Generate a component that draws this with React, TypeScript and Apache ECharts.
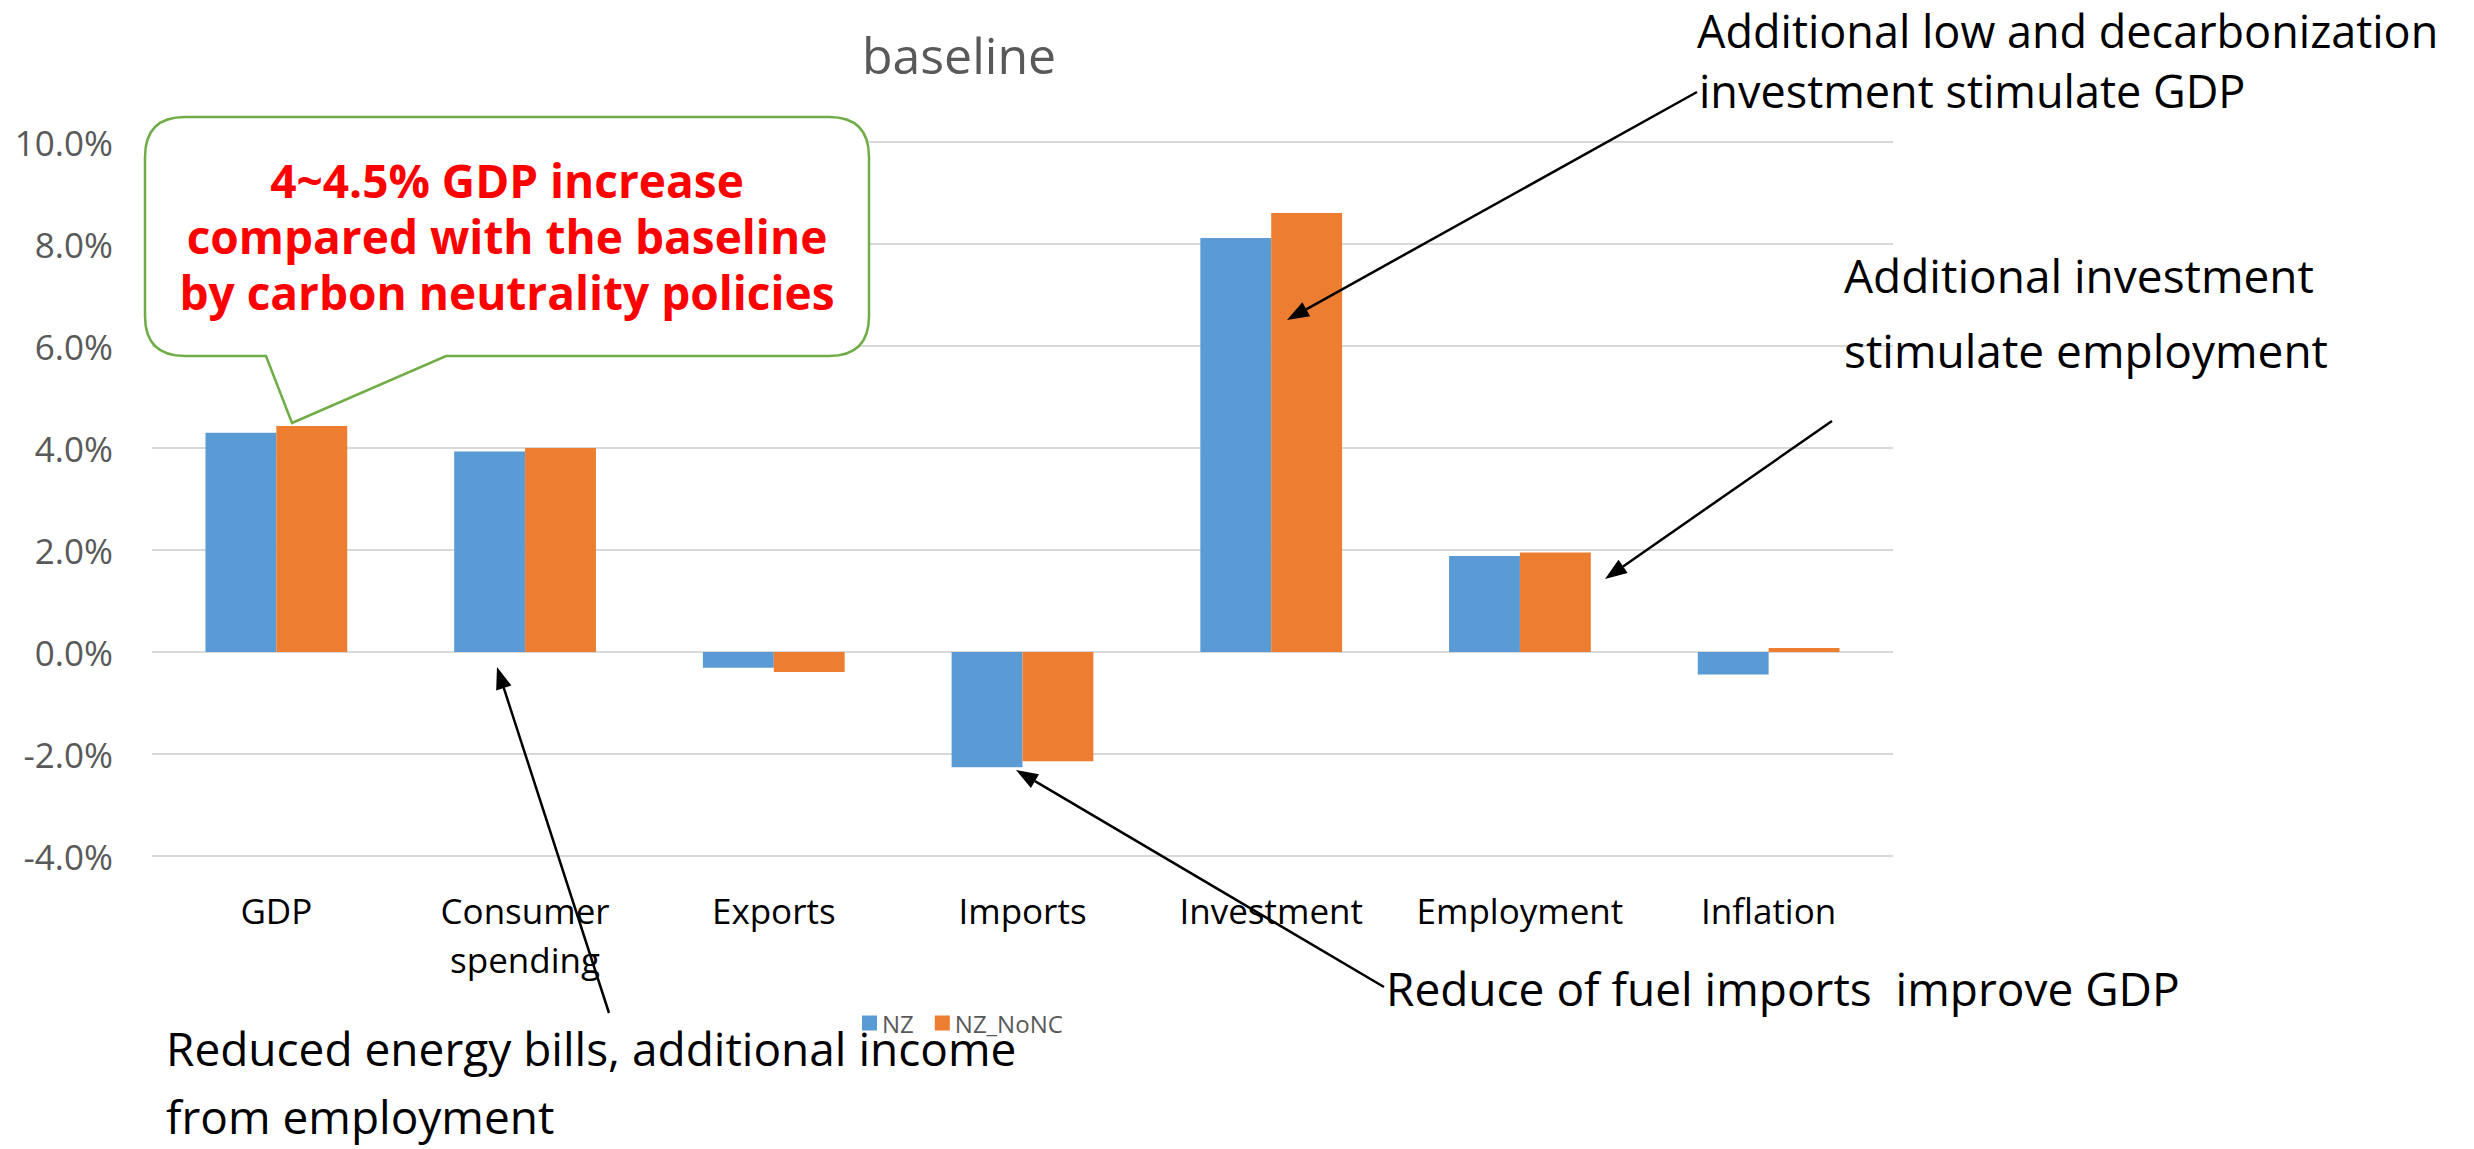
import React, { useEffect, useRef } from "react";
import * as echarts from "echarts";

const categories = ["GDP", "Consumer spending", "Exports", "Imports", "Investment", "Employment", "Inflation"];
const nz = [4.3, 3.93, -0.31, -2.26, 8.12, 1.88, -0.44];
const nzNoNC = [4.43, 4.0, -0.39, -2.14, 8.61, 1.95, 0.08];
const seriesNames = ["NZ", "NZ_NoNC"];
const calloutLines = [
  "4~4.5% GDP increase",
  "compared with the baseline",
  "by carbon neutrality policies",
];

const FONT = "'Open Sans', 'Noto Sans', sans-serif";

// callout outline
const bx0 = 145, by0 = 117, bx1 = 869, by1 = 356, r = 40;
const calloutPath =
  `M ${bx0 + r} ${by0} L ${bx1 - r} ${by0} Q ${bx1} ${by0} ${bx1} ${by0 + r} ` +
  `L ${bx1} ${by1 - r} Q ${bx1} ${by1} ${bx1 - r} ${by1} L 446 ${by1} L 292 423 L 266 ${by1} ` +
  `L ${bx0 + r} ${by1} Q ${bx0} ${by1} ${bx0} ${by1 - r} L ${bx0} ${by0 + r} Q ${bx0} ${by0} ${bx0 + r} ${by0} Z`;
echarts.graphic.registerShape("callout", echarts.graphic.extendPath(calloutPath, {}));

function arrow(x1: number, y1: number, x2: number, y2: number) {
  const dx = x2 - x1, dy = y2 - y1;
  const len = Math.sqrt(dx * dx + dy * dy);
  const ux = dx / len, uy = dy / len;
  const hl = 22, hw = 8;
  const bx = x2 - ux * hl, by = y2 - uy * hl;
  return [
    {
      type: "line",
      z: 100,
      shape: { x1, y1, x2: bx, y2: by },
      style: { stroke: "#000", lineWidth: 2.5 },
    },
    {
      type: "polygon",
      z: 100,
      shape: {
        points: [
          [x2, y2],
          [bx - uy * hw, by + ux * hw],
          [bx + uy * hw, by - ux * hw],
        ],
      },
      style: { fill: "#000" },
    },
  ];
}

function txt(text: string, x: number, baseline: number, size: number, opts: any = {}) {
  const align = opts.align || "left";
  return {
    type: "text",
    z: 101,
    style: {
      text,
      x,
      y: baseline - 0.39 * size,
      fill: opts.fill || "#000",
      fontSize: size,
      fontFamily: FONT,
      fontWeight: opts.bold ? "bold" : "normal",
      align,
      textAlign: align,
      verticalAlign: "middle",
      textVerticalAlign: "middle",
    },
  };
}

export default function App() {
  const ref = useRef<HTMLDivElement>(null);
  useEffect(() => {
    const chart = echarts.init(ref.current!, null, { renderer: "svg" });
    const graphics: any[] = [
      {
        type: "callout",
        x: 0,
        y: 0,
        z: 99,
        style: { fill: "#fff", stroke: "#70AD47", lineWidth: 2.5 },
      },
      ...calloutLines.map((t, i) => txt(t, 507, 198 + i * 56, 46, { align: "center", fill: "#FF0000", bold: true })),
      txt("Additional low and decarbonization", 1697, 48, 45),
      txt("investment stimulate GDP", 1699, 108, 45),
      txt("Additional investment", 1844, 293, 46),
      txt("stimulate employment", 1844, 368, 46),
      txt("Reduce of fuel imports  improve GDP", 1386, 1006, 46),
      txt("Reduced energy bills, additional income", 166, 1066, 46),
      txt("from employment", 166, 1134, 46),
      ...arrow(1697, 92, 1287, 320),
      ...arrow(1832, 421, 1605, 579),
      ...arrow(1384, 987, 1016, 770),
      ...arrow(609, 1013, 497, 667),
    ];
    chart.setOption({
      animation: false,
      title: {
        text: "baseline",
        left: 959,
        top: 30,
        textAlign: "center",
        padding: 0,
        textStyle: { fontSize: 50, fontWeight: "normal", color: "#595959", fontFamily: FONT, lineHeight: 50 },
      },
      legend: {
        data: seriesNames,
        left: 862,
        top: 1011,
        itemWidth: 15,
        itemHeight: 15,
        itemGap: 21,
        icon: "rect",
        padding: 0,
        textStyle: { fontSize: 24, color: "#595959", fontFamily: FONT, lineHeight: 24 },
      },
      grid: { left: 152, right: 581, top: 142, bottom: 293, containLabel: false },
      xAxis: {
        type: "category",
        data: categories,
        axisLine: { show: false, onZero: false },
        axisTick: { show: false },
        splitLine: { show: false },
        axisLabel: {
          interval: 0,
          margin: 30,
          fontSize: 35,
          lineHeight: 49,
          color: "#000",
          fontFamily: FONT,
          formatter: (v: string) => v.replace(" ", "\n"),
        },
      },
      yAxis: {
        type: "value",
        min: -4,
        max: 10,
        interval: 2,
        axisLine: { show: false },
        axisTick: { show: false },
        splitLine: { lineStyle: { color: "#D9D9D9", width: 2 } },
        axisLabel: {
          margin: 39,
          fontSize: 35,
          color: "#595959",
          fontFamily: FONT,
          formatter: (v: number) => v.toFixed(1) + "%",
        },
      },
      series: [
        {
          name: seriesNames[0],
          type: "bar",
          data: nz,
          barGap: "0%",
          barCategoryGap: "43%",
          itemStyle: { color: "#5B9BD5" },
        },
        {
          name: seriesNames[1],
          type: "bar",
          data: nzNoNC,
          barGap: "0%",
          barCategoryGap: "43%",
          itemStyle: { color: "#ED7D31" },
        },
      ],
      graphic: { elements: graphics },
    });
    return () => chart.dispose();
  }, []);
  return <div ref={ref} style={{ position: "fixed", left: 0, top: 0, width: 2474, height: 1149, background: "#fff" }} />;
}
